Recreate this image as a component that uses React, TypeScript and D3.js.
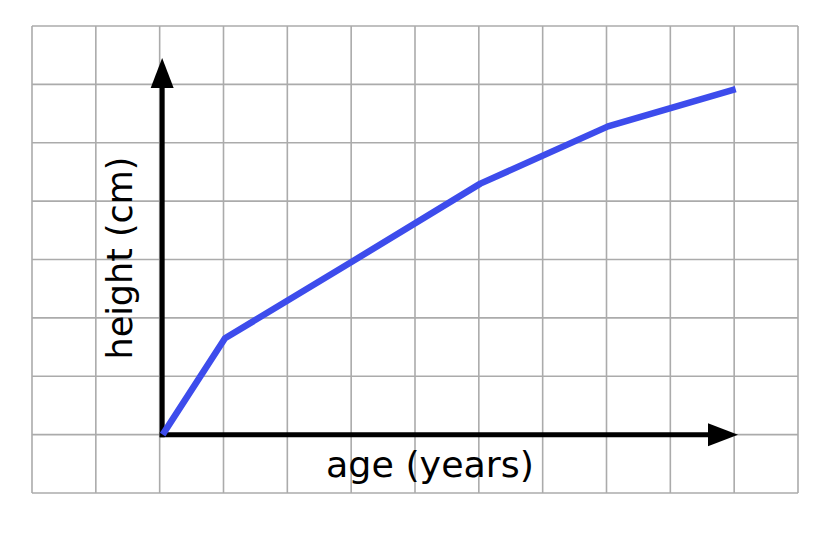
import React, { useEffect, useRef } from "react";
import * as d3 from "d3";

// ── Data ─────────────────────────────────────────────────────────────────────

const AGE = [0, 1, 3, 5, 7, 9];
const HEIGHT = [0, 1.65, 2.97, 4.3, 5.28, 5.92];

const GRID_X = d3.range(-2, 11); // vertical grid lines
const GRID_Y = d3.range(-1, 8); // horizontal grid lines

const X_AXIS_END = 9.06;
const Y_AXIS_END = 6.45;

const X_LABEL = "age (years)";
const Y_LABEL = "height (cm)";

// ── Constants ────────────────────────────────────────────────────────────────

const W = 821;
const H = 537;
const GRID_COLOR = "#ababab";
const LINE_COLOR = "#3d4cec";
const FONT = "'DejaVu Sans', sans-serif";

function renderChart(svgEl: SVGSVGElement) {
  const svg = d3.select(svgEl);
  svg.selectAll("*").remove();

  const x = d3.scaleLinear().domain([-2, 10]).range([32, 798]);
  const y = d3.scaleLinear().domain([-1, 7]).range([493, 26]);

  svg.append("rect").attr("width", W).attr("height", H).attr("fill", "#fff");

  // grid
  const grid = svg.append("g").attr("stroke", GRID_COLOR).attr("stroke-width", 1.6);
  grid
    .selectAll("line.v")
    .data(GRID_X)
    .join("line")
    .attr("class", "v")
    .attr("x1", (d) => x(d))
    .attr("x2", (d) => x(d))
    .attr("y1", y(-1))
    .attr("y2", y(7));
  grid
    .selectAll("line.h")
    .data(GRID_Y)
    .join("line")
    .attr("class", "h")
    .attr("x1", x(-2))
    .attr("x2", x(10))
    .attr("y1", (d) => y(d))
    .attr("y2", (d) => y(d));

  // axes with arrowheads
  const ox = x(0) + 2.5;
  const oy = y(0);
  const xt = x(X_AXIS_END);
  const yt = y(Y_AXIS_END);
  const axes = svg.append("g");
  axes
    .append("line")
    .attr("x1", ox - 2.5)
    .attr("y1", oy)
    .attr("x2", xt - 26)
    .attr("y2", oy)
    .attr("stroke", "#000")
    .attr("stroke-width", 5);
  axes
    .append("line")
    .attr("x1", ox)
    .attr("y1", oy + 2.5)
    .attr("x2", ox)
    .attr("y2", yt + 26)
    .attr("stroke", "#000")
    .attr("stroke-width", 5);
  axes
    .append("path")
    .attr("d", `M${xt},${oy} L${xt - 30},${oy - 11.5} L${xt - 30},${oy + 11.5} Z`)
    .attr("fill", "#000");
  axes
    .append("path")
    .attr("d", `M${ox},${yt} L${ox - 11.5},${yt + 30} L${ox + 11.5},${yt + 30} Z`)
    .attr("fill", "#000");

  // data line
  const pts = AGE.map((a, i) => [a, HEIGHT[i]] as [number, number]);
  const line = d3
    .line<[number, number]>()
    .x((d) => x(d[0]) + (d[0] === 0 ? 3 : 1.5))
    .y((d) => y(d[1]));
  svg
    .append("path")
    .datum(pts)
    .attr("d", line)
    .attr("fill", "none")
    .attr("stroke", LINE_COLOR)
    .attr("stroke-width", 6.5)
    .attr("stroke-linejoin", "round");

  // labels
  svg
    .append("text")
    .attr("x", 430)
    .attr("y", 477)
    .attr("text-anchor", "middle")
    .attr("font-family", FONT)
    .attr("font-size", 35)
    .attr("textLength", 208)
    .attr("lengthAdjust", "spacingAndGlyphs")
    .attr("fill", "#000")
    .text(X_LABEL);
  svg
    .append("text")
    .attr("transform", `translate(132,258) rotate(-90)`)
    .attr("text-anchor", "middle")
    .attr("font-family", FONT)
    .attr("font-size", 35)
    .attr("textLength", 203)
    .attr("lengthAdjust", "spacingAndGlyphs")
    .attr("fill", "#000")
    .text(Y_LABEL);
}

export default function App() {
  const svgRef = useRef<SVGSVGElement>(null);

  useEffect(() => {
    if (svgRef.current) renderChart(svgRef.current);
  }, []);

  return (
    <svg
      ref={svgRef}
      width={W}
      height={H}
      style={{ position: "fixed", left: 0, top: 0, display: "block" }}
    />
  );
}
